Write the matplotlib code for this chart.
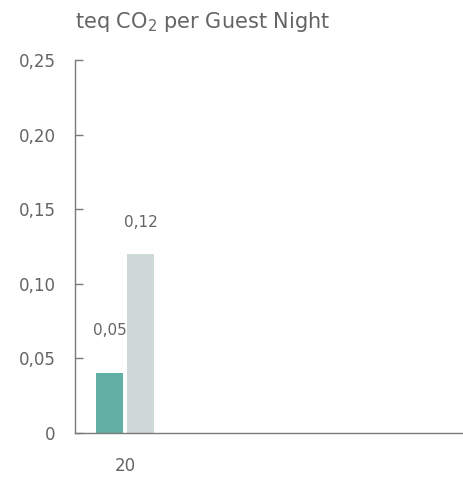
import matplotlib
matplotlib.use("Agg")
import matplotlib.pyplot as plt
import numpy as np

categories = ["20"]
series_a = [0.04]   # teal bar
series_b = [0.12]   # grey bar
labels_a = ["0,05"]
labels_b = ["0,12"]
label_pos_a = [0.05]
label_pos_b = [0.12]
yticks = [0, 0.05, 0.10, 0.15, 0.20, 0.25]
ytick_labels = ["0", "0,05", "0,10", "0,15", "0,20", "0,25"]

TEXT = "#646464"
AXIS = "#7a7a7a"
TEAL = "#62afa3"
GREY = "#ced8d9"
FONT = ["DejaVu Sans"]

plt.rcParams["mathtext.fontset"] = "dejavusans"

fig = plt.figure(figsize=(4.64, 4.78), dpi=100)
ax = fig.add_axes([75/464, 45/478, 388/464, 373/478])

x = np.arange(len(categories))
w = 0.54
ax.bar(x - 0.31, series_a, width=w, color=TEAL)
ax.bar(x + 0.31, series_b, width=w, color=GREY)

for xi, lp, lab in zip(x - 0.31, label_pos_a, labels_a):
    ax.annotate(lab, (xi, lp), xytext=(0, 15), textcoords="offset points",
                ha="center", va="bottom", fontsize=11, color=TEXT, family=FONT)
for xi, lp, lab in zip(x + 0.31, label_pos_b, labels_b):
    ax.annotate(lab, (xi, lp), xytext=(0, 17), textcoords="offset points",
                ha="center", va="bottom", fontsize=11, color=TEXT, family=FONT)

ax.set_xlim(-1, 6.76)
ax.set_ylim(0, 0.25)
ax.set_yticks(yticks)
ax.set_yticklabels(ytick_labels, family=FONT)
ax.set_xticks(x)
ax.set_xticklabels(categories, family=FONT)

for s in ["top", "right"]:
    ax.spines[s].set_visible(False)
for s in ["left", "bottom"]:
    ax.spines[s].set_color(AXIS)
    ax.spines[s].set_linewidth(1.0)

ax.tick_params(axis="y", direction="in", length=6, width=1, color=AXIS,
               labelcolor=TEXT, labelsize=12, pad=14)
ax.tick_params(axis="x", length=0, labelcolor=TEXT, labelsize=12, pad=17)

fig.text(75/464, 1 - 22/478, "teq CO$_2$ per Guest Night", ha="left", va="center",
         fontsize=15, color=TEXT, family=FONT)

fig.savefig("out.png", dpi=100)
